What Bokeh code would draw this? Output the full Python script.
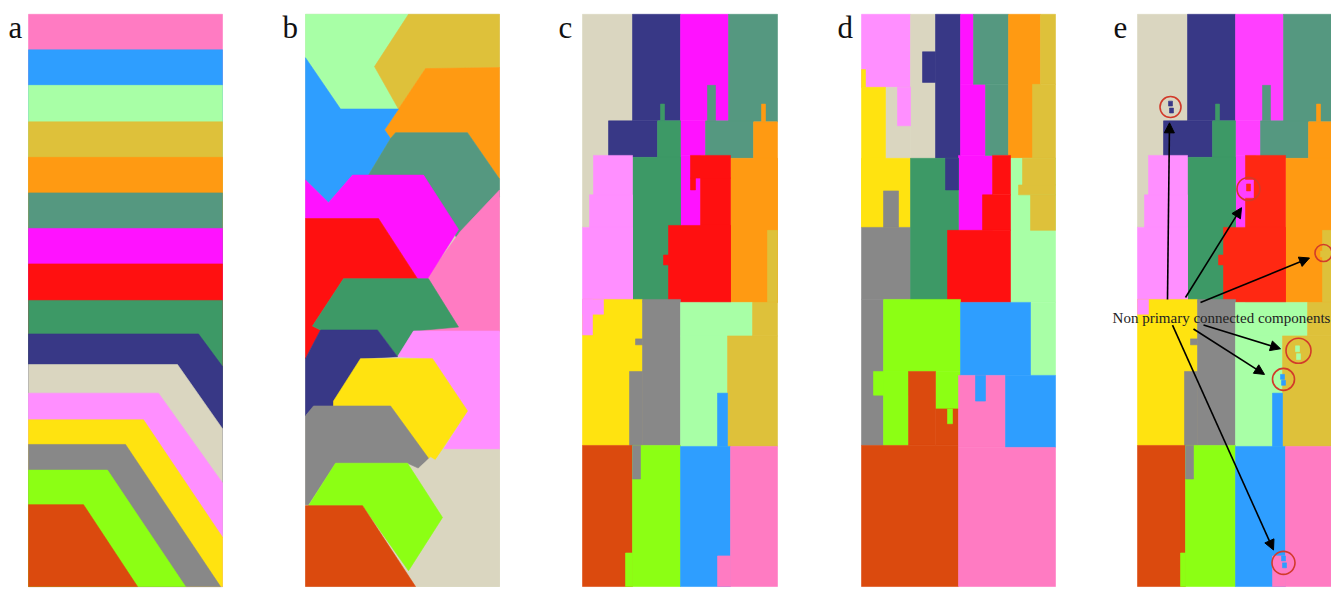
from bokeh.plotting import figure
from bokeh.models import Range1d, Arrow, NormalHead
from bokeh.embed import file_html
from bokeh.resources import INLINE
from bokeh.core.properties import value

# ---------------- palette ----------------
COLORS = {
    "pink": "#FF7BC2", "blue": "#2E9EFF", "lgreen": "#A8FFA6", "gold": "#DEC13A",
    "orange": "#FF9A12", "teal": "#559880", "magenta": "#FF12FF", "red": "#FF1010",
    "green": "#3D9966", "navy": "#383886", "beige": "#DAD6C0", "lpink": "#FF8FFF",
    "yellow": "#FFE310", "gray": "#888888", "lime": "#8CFF14", "rust": "#DB4A0E",
}
E_COLORS = dict(COLORS, magenta="#FF3FFF", red="#FF2812")

# ---------------- layout of the five panels ----------------
PANEL_LABELS = ["a", "b", "c", "d", "e"]
LABEL_X = [8, 282, 558, 837, 1113]
LABEL_Y = 27
PANEL_X = [28, 305, 582, 861, 1137]
PANEL_Y = 14
PANEL_W = 194
PANEL_H = 580

# ---------------- panel a : bands (top edge of each band) ----------------
A_REGIONS = ["pink", "blue", "lgreen", "gold", "orange", "teal", "magenta", "red",
             "green", "navy", "beige", "lpink", "yellow", "gray", "lime", "rust"]
A_EDGE_X = [[0, 194], [0, 194], [0, 194], [0, 194], [0, 194], [0, 194], [0, 194], [0, 194],
            [0, 194], [0, 170, 194], [0, 149, 194], [0, 130, 194], [0, 115, 194],
            [0, 97, 192], [0, 79, 157], [0, 55, 109]]
A_EDGE_Y = [[0, 0], [36, 36], [72, 72], [109, 109], [145, 145], [181, 181], [217, 217], [253, 253],
            [290, 290], [324, 324, 357], [355, 355, 420], [384, 384, 475], [411, 411, 530],
            [436, 436, 580], [462, 462, 580], [497, 497, 580]]

# ---------------- panel b : polygons ----------------
B_BASE = "beige"
B_REGIONS = ["lgreen", "gold", "orange", "blue", "teal", "pink", "magenta", "red",
             "green", "lpink", "navy", "yellow", "gray", "beige", "lime", "rust"]
B_XS = [
    [0, 103, 69, 93, 35, 0],
    [103, 194, 194, 120, 93, 69],
    [120, 194, 194, 162, 90, 85, 79, 93],
    [0, 35, 93, 79, 85, 63, 47, 23, 0],
    [90, 162, 194, 194, 156, 118, 63, 85],
    [194, 194, 108, 122, 155],
    [0, 23, 47, 118, 153, 122, 112, 73, 0],
    [0, 73, 112, 38, 7, 15, 0],
    [38, 123, 153, 108, 92, 72, 15, 7],
    [108, 194, 194, 138, 162, 127, 92],
    [15, 72, 92, 55, 28, 8, 0, 0],
    [55, 127, 162, 128, 123, 85, 28, 28],
    [8, 85, 123, 115, 102, 30, 3, 0, 0],
    [138, 194, 194, 100, 100, 137, 113, 113, 125, 130],
    [30, 102, 137, 103, 57, 3],
    [0, 57, 110, 0],
]
B_YS = [
    [0, 0, 53, 96, 96, 44],
    [0, 0, 54, 55, 96, 53],
    [55, 54, 167, 120, 120, 126, 117, 96],
    [44, 96, 96, 117, 126, 163, 163, 191, 168],
    [120, 120, 167, 185, 236, 163, 163, 126],
    [178, 322, 322, 266, 220],
    [168, 191, 163, 163, 218, 268, 268, 207, 207],
    [207, 207, 268, 268, 316, 320, 349],
    [268, 268, 317, 321, 347, 320, 320, 316],
    [321, 321, 441, 441, 402, 349, 347],
    [320, 320, 347, 349, 398, 398, 407, 349],
    [349, 349, 402, 454, 452, 397, 397, 392],
    [397, 397, 450, 461, 455, 455, 497, 497, 407],
    [441, 441, 580, 580, 562, 510, 470, 460, 449, 452],
    [455, 455, 510, 564, 498, 498],
    [498, 498, 580, 580],
]

# ---------------- panel c : cells (colour, x0, x1, y0, y1), painted in order ----------------
C_CELLS = [
    ("beige", 0, 50, 0, 216), ("navy", 50, 98, 0, 108), ("navy", 26, 75, 108, 145),
    ("magenta", 98, 146, 0, 108), ("magenta", 98, 123, 108, 143), ("magenta", 98, 118, 143, 216),
    ("teal", 146, 195, 0, 109), ("teal", 123, 171, 108, 146), ("teal", 125, 133, 72, 108),
    ("orange", 171, 195, 109, 292), ("orange", 148, 195, 146, 292), ("orange", 179, 183, 91, 109),
    ("gold", 185, 195, 219, 292),
    ("green", 75, 98, 108, 292), ("green", 50, 98, 145, 292), ("green", 78, 82, 91, 108),
    ("lpink", 11, 50, 143, 292), ("lpink", 7, 50, 183, 292), ("lpink", 0, 50, 216, 292),
    ("red", 108, 148, 143, 166), ("red", 118, 148, 166, 292), ("red", 108, 113, 166, 178),
    ("red", 86, 148, 214, 292), ("red", 81, 86, 244, 254),
    ("yellow", 0, 60, 289, 437), ("lpink", 0, 21, 289, 304), ("lpink", 0, 10, 289, 325),
    ("gray", 60, 98, 289, 437), ("gray", 47, 60, 362, 437), ("gray", 53, 60, 329, 335),
    ("lgreen", 98, 170, 292, 326), ("lgreen", 98, 145, 326, 438),
    ("gold", 170, 195, 292, 326), ("gold", 145, 195, 326, 438), ("blue", 135, 145, 384, 438),
    ("rust", 0, 50, 437, 580), ("lime", 50, 98, 437, 580), ("lime", 43, 50, 546, 580),
    ("gray", 50, 58, 437, 471), ("blue", 98, 148, 438, 580), ("pink", 148, 195, 438, 580),
    ("pink", 135, 148, 549, 580),
]

# ---------------- panel d ----------------
D_CELLS = [
    ("lpink", 0, 49, 0, 74), ("yellow", 0, 4, 56, 74), ("beige", 49, 74, 0, 146),
    ("beige", 24, 49, 74, 146), ("lpink", 36, 49, 74, 113), ("navy", 61, 74, 38, 69),
    ("navy", 74, 99, 0, 146), ("magenta", 99, 112, 0, 71), ("magenta", 99, 124, 71, 143),
    ("magenta", 97, 131, 143, 219), ("teal", 112, 147, 0, 71), ("teal", 124, 147, 71, 143),
    ("orange", 147, 179, 0, 146), ("lgreen", 149, 194, 146, 292), ("lgreen", 169, 194, 292, 366),
    ("gold", 179, 194, 0, 71), ("gold", 171, 194, 71, 146), ("gold", 161, 194, 146, 173),
    ("gold", 157, 194, 173, 183), ("gold", 169, 194, 183, 219),
    ("yellow", 0, 24, 74, 216), ("yellow", 0, 49, 146, 216), ("gray", 0, 49, 216, 289),
    ("gray", 0, 22, 289, 437), ("gray", 22, 37, 179, 216), ("green", 49, 97, 146, 292),
    ("navy", 84, 97, 146, 178), ("red", 131, 149, 143, 183), ("red", 121, 149, 183, 219),
    ("red", 86, 149, 219, 292),
    ("lime", 22, 99, 289, 362), ("lime", 12, 47, 362, 386), ("lime", 22, 47, 362, 437),
    ("lime", 74, 99, 362, 400), ("rust", 47, 74, 362, 437), ("rust", 74, 97, 400, 437),
    ("lime", 86, 91, 400, 415), ("rust", 0, 97, 437, 580),
    ("blue", 99, 169, 292, 366), ("pink", 97, 144, 366, 439), ("blue", 144, 194, 366, 439),
    ("blue", 114, 124, 366, 392), ("pink", 97, 194, 439, 580),
]

# ---------------- panel e ----------------
E_CELLS = [
    ("beige", 0, 50, 0, 216), ("navy", 50, 98, 0, 108), ("navy", 26, 75, 108, 145),
    ("magenta", 98, 146, 0, 108), ("magenta", 98, 123, 108, 143), ("magenta", 98, 118, 143, 216),
    ("teal", 146, 194, 0, 109), ("teal", 123, 171, 108, 146), ("teal", 125, 133, 72, 108),
    ("orange", 171, 194, 109, 292), ("orange", 148, 194, 146, 292), ("orange", 179, 183, 91, 109),
    ("gold", 185, 194, 219, 292),
    ("green", 75, 98, 108, 292), ("green", 50, 98, 145, 292), ("green", 78, 82, 91, 108),
    ("lpink", 11, 50, 143, 292), ("lpink", 7, 50, 183, 292), ("lpink", 0, 50, 216, 292),
    ("red", 108, 148, 143, 292), ("red", 86, 148, 216, 292), ("red", 81, 86, 244, 254),
    ("yellow", 0, 60, 289, 437), ("lpink", 0, 11, 289, 304),
    ("gray", 60, 98, 289, 437), ("gray", 47, 60, 362, 437), ("gray", 53, 60, 329, 335),
    ("lgreen", 98, 170, 292, 326), ("lgreen", 98, 145, 326, 438),
    ("gold", 170, 194, 292, 326), ("gold", 145, 194, 326, 438), ("blue", 135, 145, 384, 438),
    ("rust", 0, 48, 437, 580), ("lime", 48, 98, 437, 580), ("lime", 43, 48, 546, 580),
    ("gray", 48, 56, 437, 471), ("blue", 98, 148, 438, 580), ("pink", 148, 194, 438, 580),
    ("pink", 135, 148, 549, 580),
    # small non-primary components
    ("navy", 31, 35, 88, 93), ("navy", 32, 36, 95, 100),
    ("magenta", 106, 116, 168, 186), ("red", 109, 113, 172, 179),
    ("gold", 183, 188, 240, 246),
    ("lgreen", 158, 162, 336, 342), ("lgreen", 159, 163, 344, 350),
    ("blue", 143, 147, 365, 370), ("blue", 144, 148, 371, 376),
    ("blue", 144, 148, 549, 554), ("blue", 145, 149, 556, 561),
]

# ---------------- panel e annotations ----------------
NOTE_TEXT = "Non primary connected components"
NOTE_X, NOTE_Y = 1221, 322
ARROW_X0 = [1167, 1185, 1200, 1203, 1193, 1172]
ARROW_Y0 = [303, 301, 306, 329, 333, 329]
ARROW_X1 = [1169, 1241, 1309, 1280, 1264, 1273]
ARROW_Y1 = [124, 210, 261, 353, 379, 557]
RING_X = [1170, 1248, 1323, 1298, 1283, 1283]
RING_Y = [108, 191, 256, 355, 384, 570]
RING_D = [21, 23, 17, 25, 22, 23]

# ---------------- figure ----------------
p = figure(width=1331, height=588, x_range=Range1d(0, 1331), y_range=Range1d(596, 0),
           output_backend="svg", toolbar_location=None, min_border=0)
p.axis.visible = False
p.grid.visible = False
p.outline_line_color = None
p.background_fill_color = "white"
p.border_fill_color = "white"


def draw_patches(ox, oy, names, xs, ys, palette):
    gx = [[ox + v for v in row] for row in xs]
    gy = [[oy + v for v in row] for row in ys]
    cols = [palette[n] for n in names]
    p.patches(gx, gy, fill_color=cols, line_color=cols, line_width=0.6)


def draw_cells(ox, oy, cells, palette):
    cols = [palette[c[0]] for c in cells]
    p.quad(left=[ox + c[1] for c in cells], right=[ox + c[2] for c in cells],
           top=[oy + c[3] for c in cells], bottom=[oy + c[4] for c in cells],
           fill_color=cols, line_color=cols, line_width=0.6)


# panel a
a_xs, a_ys = [], []
for ex, ey in zip(A_EDGE_X, A_EDGE_Y):
    xs, ys = list(ex), list(ey)
    if ys[-1] < PANEL_H:
        xs.append(PANEL_W)
        ys.append(PANEL_H)
    xs.append(0)
    ys.append(PANEL_H)
    a_xs.append(xs)
    a_ys.append(ys)
draw_patches(PANEL_X[0], PANEL_Y, A_REGIONS, a_xs, a_ys, COLORS)

# panel b (base fill first so that no seam shows through)
draw_cells(PANEL_X[1], PANEL_Y, [(B_BASE, 0, PANEL_W, 0, PANEL_H)], COLORS)
draw_patches(PANEL_X[1], PANEL_Y, B_REGIONS, B_XS, B_YS, COLORS)

# panels c, d, e
draw_cells(PANEL_X[2], PANEL_Y, C_CELLS, COLORS)
draw_cells(PANEL_X[3], PANEL_Y, D_CELLS, COLORS)
draw_cells(PANEL_X[4], PANEL_Y, E_CELLS, E_COLORS)

# panel letters
p.text(x=LABEL_X, y=[LABEL_Y] * len(LABEL_X), text=PANEL_LABELS,
       text_font=value("Liberation Serif"), text_font_size="31px",
       text_baseline="alphabetic", text_align="left", text_color="#111111")

# rings
p.scatter(x=RING_X, y=RING_Y, size=RING_D, marker="circle", fill_alpha=0,
          line_color="#D23A2A", line_width=1.6)

# arrows
for x0, y0, x1, y1 in zip(ARROW_X0, ARROW_Y0, ARROW_X1, ARROW_Y1):
    p.add_layout(Arrow(end=NormalHead(size=10, fill_color="black", line_color="black",
                                      line_width=1),
                       x_start=x0, y_start=y0, x_end=x1, y_end=y1,
                       line_color="black", line_width=1.6))

# note
p.text(x=[NOTE_X], y=[NOTE_Y], text=[NOTE_TEXT], text_font=value("Liberation Serif"),
       text_font_size="15px", text_align="center", text_baseline="alphabetic",
       text_color="#222222")

open("out.html", "w").write(file_html(p, INLINE))
